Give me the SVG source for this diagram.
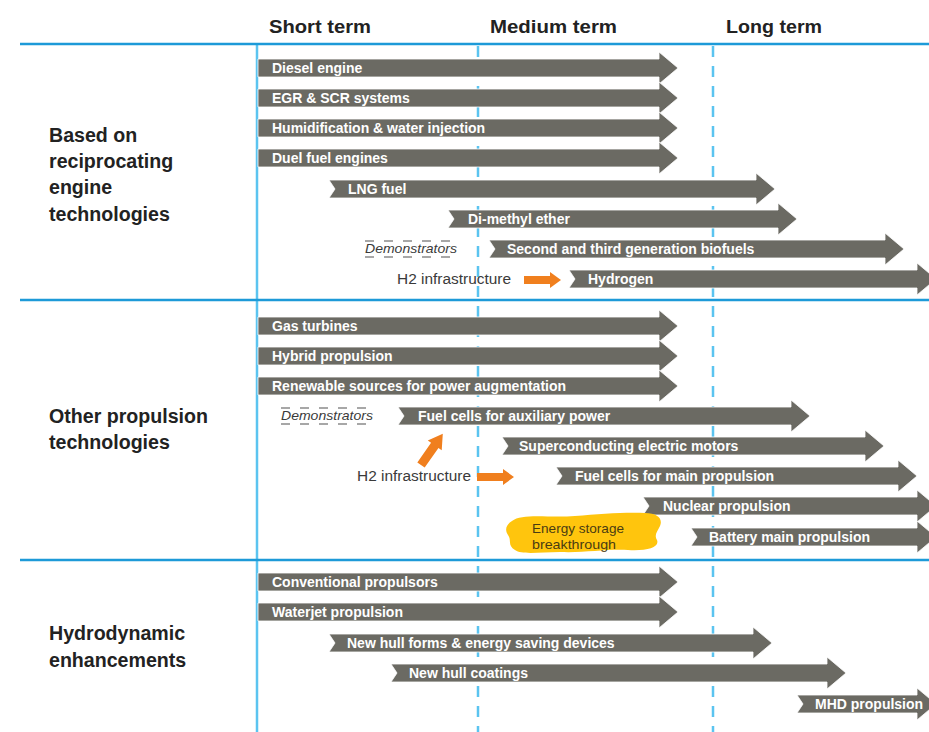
<svg xmlns="http://www.w3.org/2000/svg" width="929" height="732" viewBox="0 0 929 732">
<style>
.hdr{font-family:"Liberation Sans",Arial,sans-serif;font-weight:bold;font-size:19px;fill:#222;}
.sec{font-family:"Liberation Sans",Arial,sans-serif;font-weight:bold;font-size:19.6px;fill:#222;}
.bar{fill:#6b6a63;stroke:#ffffff;stroke-width:0.8;}
.lbl{font-family:"Liberation Sans",Arial,sans-serif;font-weight:bold;font-size:14px;fill:#ffffff;}
.note{font-family:"Liberation Sans",Arial,sans-serif;font-size:14px;fill:#3a3a3a;}
.demo{font-family:"Liberation Sans",Arial,sans-serif;font-style:italic;font-size:13px;fill:#3a3a3a;}
.dash{stroke:#8a8a8a;stroke-width:1.6;stroke-dasharray:9 10;fill:none;}
.orange{fill:#f07f1e;}
.hline{stroke:#1d9ad8;stroke-width:2.5;fill:none;}
.vsolid{stroke:#5bc4f0;stroke-width:2.5;fill:none;}
.vdash{stroke:#5bc4f0;stroke-width:2.5;stroke-dasharray:11 9;fill:none;}
.blobtxt{font-family:"Liberation Sans",Arial,sans-serif;font-size:13.5px;fill:#4a3c12;}
</style>
<rect width="929" height="732" fill="#ffffff"/>
<g id="grid">
<line class="vsolid" x1="257" y1="44" x2="257" y2="732"/>
<line class="vdash" x1="478" y1="46" x2="478" y2="732"/>
<line class="vdash" x1="713" y1="46" x2="713" y2="732"/>
<line class="hline" x1="20" y1="44" x2="929" y2="44"/>
<line class="hline" x1="20" y1="300" x2="929" y2="300"/>
<line class="hline" x1="20" y1="560" x2="929" y2="560"/>
</g>
<g id="headers">
<text class="hdr" x="269" y="33" textLength="102" lengthAdjust="spacingAndGlyphs">Short term</text>
<text class="hdr" x="490" y="33" textLength="127" lengthAdjust="spacingAndGlyphs">Medium term</text>
<text class="hdr" x="726" y="33" textLength="96" lengthAdjust="spacingAndGlyphs">Long term</text>
</g>
<g id="section-reciprocating">
<text class="sec" x="49" y="142">Based on</text>
<text class="sec" x="49" y="168">reciprocating</text>
<text class="sec" x="49" y="194">engine</text>
<text class="sec" x="49" y="221">technologies</text>
</g>
<g id="section-other">
<text class="sec" x="49" y="423">Other propulsion</text>
<text class="sec" x="49" y="449">technologies</text>
</g>
<g id="section-hydro">
<text class="sec" x="49" y="640">Hydrodynamic</text>
<text class="sec" x="49" y="667">enhancements</text>
</g>

<g id="diesel"><polygon class="bar" points="258,59 659,59 659,52 678,68 659,84 659,77 258,77"/><text class="lbl" x="272" y="73">Diesel engine</text></g>
<g id="egr"><polygon class="bar" points="258,89 659,89 659,82 678,98 659,114 659,107 258,107"/><text class="lbl" x="272" y="103">EGR &amp; SCR systems</text></g>
<g id="humid"><polygon class="bar" points="258,119 659,119 659,112 678,128 659,144 659,137 258,137"/><text class="lbl" x="272" y="133">Humidification &amp; water injection</text></g>
<g id="duel"><polygon class="bar" points="258,149 659,149 659,142 678,158 659,174 659,167 258,167"/><text class="lbl" x="272" y="163">Duel fuel engines</text></g>
<g id="lng"><polygon class="bar" points="329,180 756,180 756,173 775,189 756,205 756,198 329,198 335,189"/><text class="lbl" x="348" y="194">LNG fuel</text></g>
<g id="dme"><polygon class="bar" points="448,210 778,210 778,203 797,219 778,235 778,228 448,228 454,219"/><text class="lbl" x="468" y="224">Di-methyl ether</text></g>
<g id="biofuels"><polygon class="bar" points="489,240 885,240 885,233 904,249 885,265 885,258 489,258 495,249"/><text class="lbl" x="507" y="254">Second and third generation biofuels</text></g>
<g id="hydrogen"><polygon class="bar" points="569,270 917,270 917,263 936,279 917,295 917,288 569,288 575,279"/><text class="lbl" x="588" y="284">Hydrogen</text></g>
<g id="demo1"><line class="dash" x1="365" y1="241" x2="457" y2="241"/><line class="dash" x1="365" y1="257" x2="457" y2="257"/><text class="demo" x="365" y="253" textLength="92" lengthAdjust="spacingAndGlyphs">Demonstrators</text></g>
<g id="h2infra1"><text class="note" x="397" y="284" textLength="114" lengthAdjust="spacingAndGlyphs">H2 infrastructure</text></g>

<g id="gasturb"><polygon class="bar" points="258,317 659,317 659,310 678,326 659,342 659,335 258,335"/><text class="lbl" x="272" y="331">Gas turbines</text></g>
<g id="hybrid"><polygon class="bar" points="258,347 659,347 659,340 678,356 659,372 659,365 258,365"/><text class="lbl" x="272" y="361">Hybrid propulsion</text></g>
<g id="renew"><polygon class="bar" points="258,377 659,377 659,370 678,386 659,402 659,395 258,395"/><text class="lbl" x="272" y="391">Renewable sources for power augmentation</text></g>
<g id="fcaux"><polygon class="bar" points="398,407 791,407 791,400 810,416 791,432 791,425 398,425 404,416"/><text class="lbl" x="418" y="421">Fuel cells for auxiliary power</text></g>
<g id="supercond"><polygon class="bar" points="502,437 865,437 865,430 884,446 865,462 865,455 502,455 508,446"/><text class="lbl" x="519" y="451">Superconducting electric motors</text></g>
<g id="fcmain"><polygon class="bar" points="556,467 898,467 898,460 917,476 898,492 898,485 556,485 562,476"/><text class="lbl" x="575" y="481">Fuel cells for main propulsion</text></g>
<g id="nuclear"><polygon class="bar" points="643,497 917,497 917,490 936,506 917,522 917,515 643,515 649,506"/><text class="lbl" x="663" y="511">Nuclear propulsion</text></g>
<g id="battery"><polygon class="bar" points="691,528 917,528 917,521 936,537 917,553 917,546 691,546 697,537"/><text class="lbl" x="709" y="542">Battery main propulsion</text></g>
<g id="demo2"><line class="dash" x1="281" y1="408" x2="373" y2="408"/><line class="dash" x1="281" y1="424" x2="373" y2="424"/><text class="demo" x="281" y="420" textLength="92" lengthAdjust="spacingAndGlyphs">Demonstrators</text></g>
<g id="h2infra2"><text class="note" x="357" y="481" textLength="114" lengthAdjust="spacingAndGlyphs">H2 infrastructure</text></g>
<g id="energy">
<path fill="#ffc50d" d="M512,521 C522,513 548,518 575,516 C600,514 625,512 645,513 C658,513 663,519 660,526 C657,532 654,535 657,540 C660,548 646,551 628,550 C605,549 585,553 560,552 C540,552 522,555 515,550 C507,545 512,540 508,535 C504,529 507,524 512,521 Z"/>
<text class="blobtxt" x="532" y="533" textLength="92" lengthAdjust="spacingAndGlyphs">Energy storage</text>
<text class="blobtxt" x="532" y="549" textLength="84" lengthAdjust="spacingAndGlyphs">breakthrough</text>
</g>

<g id="convprop"><polygon class="bar" points="258,573 659,573 659,566 678,582 659,598 659,591 258,591"/><text class="lbl" x="272" y="587">Conventional propulsors</text></g>
<g id="waterjet"><polygon class="bar" points="258,603 659,603 659,596 678,612 659,628 659,621 258,621"/><text class="lbl" x="272" y="617">Waterjet propulsion</text></g>
<g id="hullforms"><polygon class="bar" points="329,634 753,634 753,627 772,643 753,659 753,652 329,652 335,643"/><text class="lbl" x="347" y="648">New hull forms &amp; energy saving devices</text></g>
<g id="hullcoat"><polygon class="bar" points="391,664 827,664 827,657 846,673 827,689 827,682 391,682 397,673"/><text class="lbl" x="409" y="678">New hull coatings</text></g>
<g id="mhd"><polygon class="bar" points="797,695 917,695 917,688 936,704 917,720 917,713 797,713 803,704"/><text class="lbl" x="815" y="709">MHD propulsion</text></g>

<g id="connectors">
<polygon class="orange" points="524,276 550,276 550,272 561,280 550,288 550,284 524,284"/>
<polygon class="orange" points="477,473 503,473 503,469 514,477 503,485 503,481 477,481"/>
<polygon class="orange" transform="translate(421,465) rotate(-55)" points="0,-4.5 24,-4.5 24,-8.5 38,0 24,8.5 24,4.5 0,4.5"/>
</g>
</svg>
